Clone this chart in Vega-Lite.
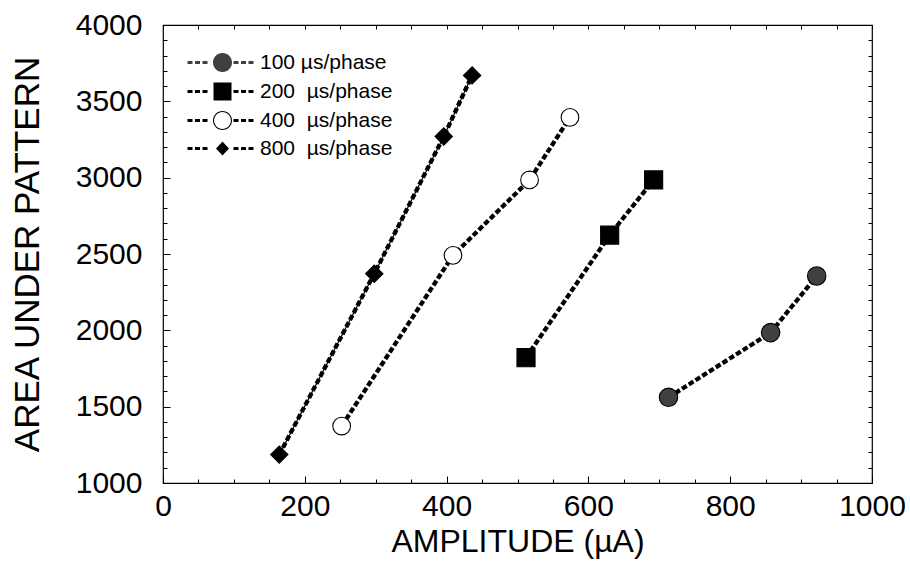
{
  "$schema": "https://vega.github.io/schema/vega-lite/v6.json",
  "width": 709,
  "height": 458,
  "autosize": "none",
  "padding": {"left": 163, "top": 25, "right": 38, "bottom": 81},
  "background": "white",
  "config": {
    "view": {"stroke": "black", "strokeWidth": 1.2},
    "font": "Liberation Sans",
    "axis": {"grid": false, "domain": false, "tickColor": "black", "labelColor": "black", "titleColor": "black", "labelFont": "Liberation Sans", "titleFont": "Liberation Sans", "titleFontWeight": "normal", "tickWidth": 1, "labelFlush": false, "format": "d"}
  },
  "data": {
    "values": [
      {"series": "100 µs/phase", "sid": 100, "amp": 713, "area": 1561},
      {"series": "100 µs/phase", "sid": 100, "amp": 857, "area": 1985},
      {"series": "100 µs/phase", "sid": 100, "amp": 922, "area": 2356},
      {"series": "200\u00a0 µs/phase", "sid": 200, "amp": 512, "area": 1821},
      {"series": "200\u00a0 µs/phase", "sid": 200, "amp": 630, "area": 2624},
      {"series": "200\u00a0 µs/phase", "sid": 200, "amp": 692, "area": 2985},
      {"series": "400\u00a0 µs/phase", "sid": 400, "amp": 252, "area": 1373},
      {"series": "400\u00a0 µs/phase", "sid": 400, "amp": 409, "area": 2491},
      {"series": "400\u00a0 µs/phase", "sid": 400, "amp": 517, "area": 2985},
      {"series": "400\u00a0 µs/phase", "sid": 400, "amp": 574, "area": 3395},
      {"series": "800\u00a0 µs/phase", "sid": 800, "amp": 164, "area": 1186},
      {"series": "800\u00a0 µs/phase", "sid": 800, "amp": 298, "area": 2371},
      {"series": "800\u00a0 µs/phase", "sid": 800, "amp": 396, "area": 3270},
      {"series": "800\u00a0 µs/phase", "sid": 800, "amp": 436, "area": 3670}
    ]
  },
  "layer": [
    {
      "mark": {"type": "line", "color": "black", "strokeWidth": 4.3, "strokeDash": [5.5, 2.5]},
      "encoding": {
        "x": {"field": "amp", "type": "quantitative", "scale": {"domain": [0, 1000], "nice": false},
          "axis": {"orient": "bottom", "values": [0, 200, 400, 600, 800, 1000], "title": "AMPLITUDE (µA)", "tickSize": -7, "labelFontSize": 30, "labelPadding": 15, "titleFontSize": 32, "titlePadding": 5}},
        "y": {"field": "area", "type": "quantitative", "scale": {"domain": [1000, 4000], "nice": false, "zero": false},
          "axis": {"orient": "left", "values": [1000, 1500, 2000, 2500, 3000, 3500, 4000], "title": "AREA UNDER PATTERN", "tickSize": -7, "labelFontSize": 30, "labelPadding": 28, "titleFontSize": 35, "titlePadding": 30}},
        "detail": {"field": "series"}
      }
    },
    {
      "transform": [{"filter": "datum.sid == 800"}],
      "mark": {"type": "line", "color": "black", "strokeWidth": 1.2},
      "encoding": {
        "x": {"field": "amp", "type": "quantitative", "scale": {"domain": [0, 1000], "nice": false},
          "axis": {"orient": "top", "values": [0, 50, 100, 150, 200, 250, 300, 350, 400, 450, 500, 550, 600, 650, 700, 750, 800, 850, 900, 950, 1000], "labels": false, "title": null, "tickSize": -4}},
        "y": {"field": "area", "type": "quantitative", "scale": {"domain": [1000, 4000], "nice": false, "zero": false},
          "axis": {"orient": "right", "values": [1000, 1100, 1200, 1300, 1400, 1500, 1600, 1700, 1800, 1900, 2000, 2100, 2200, 2300, 2400, 2500, 2600, 2700, 2800, 2900, 3000, 3100, 3200, 3300, 3400, 3500, 3600, 3700, 3800, 3900, 4000], "labels": false, "title": null, "tickSize": -4}}
      }
    },
    {
      "mark": {"type": "point", "filled": true, "stroke": "black", "strokeWidth": 1.1, "opacity": 1},
      "encoding": {
        "x": {"field": "amp", "type": "quantitative", "scale": {"domain": [0, 1000], "nice": false},
          "axis": {"orient": "bottom", "values": [0, 50, 100, 150, 200, 250, 300, 350, 400, 450, 500, 550, 600, 650, 700, 750, 800, 850, 900, 950, 1000], "labels": false, "title": null, "tickSize": -4}},
        "y": {"field": "area", "type": "quantitative", "scale": {"domain": [1000, 4000], "nice": false, "zero": false},
          "axis": {"orient": "left", "values": [1000, 1100, 1200, 1300, 1400, 1500, 1600, 1700, 1800, 1900, 2000, 2100, 2200, 2300, 2400, 2500, 2600, 2700, 2800, 2900, 3000, 3100, 3200, 3300, 3400, 3500, 3600, 3700, 3800, 3900, 4000], "labels": false, "title": null, "tickSize": -4}},
        "shape": {"field": "series", "type": "nominal", "scale": {"domain": ["100 µs/phase", "200\u00a0 µs/phase", "400\u00a0 µs/phase", "800\u00a0 µs/phase"], "range": ["circle", "square", "circle", "diamond"]}, "legend": null},
        "fill": {"field": "series", "type": "nominal", "scale": {"domain": ["100 µs/phase", "200\u00a0 µs/phase", "400\u00a0 µs/phase", "800\u00a0 µs/phase"], "range": ["#404040", "black", "white", "black"]}, "legend": null},
        "size": {"field": "series", "type": "ordinal", "scale": {"domain": ["100 µs/phase", "200\u00a0 µs/phase", "400\u00a0 µs/phase", "800\u00a0 µs/phase"], "range": [340, 300, 340, 170]}, "legend": null}
      }
    },
    {
      "mark": {"type": "point", "filled": true, "opacity": 0, "size": 4},
      "encoding": {
        "x": {"field": "amp", "type": "quantitative", "scale": {"domain": [0, 1000], "nice": false}, "axis": null},
        "y": {"field": "area", "type": "quantitative", "scale": {"domain": [1000, 4000], "nice": false, "zero": false}, "axis": null},
        "shape": {"field": "series", "type": "nominal",
          "scale": {"domain": ["100 µs/phase", "200\u00a0 µs/phase", "400\u00a0 µs/phase", "800\u00a0 µs/phase"],
            "range": [
              "M-35,-1.4H-30V1.4H-35Z M-27.5,-1.4H-22.5V1.4H-27.5Z M-20,-1.4H-15V1.4H-20Z M11,-1.4H16V1.4H11Z M18.5,-1.4H23.5V1.4H18.5Z M26,-1.4H31V1.4H26Z M9.5,0A9.5,9.5,0,1,1,-9.5,0A9.5,9.5,0,1,1,9.5,0Z",
              "M-35,-1.4H-30V1.4H-35Z M-27.5,-1.4H-22.5V1.4H-27.5Z M-20,-1.4H-15V1.4H-20Z M11,-1.4H16V1.4H11Z M18.5,-1.4H23.5V1.4H18.5Z M26,-1.4H31V1.4H26Z M-9,-9H9V9H-9Z",
              "M-35,-1.4H-30V1.4H-35Z M-27.5,-1.4H-22.5V1.4H-27.5Z M-20,-1.4H-15V1.4H-20Z M11,-1.4H16V1.4H11Z M18.5,-1.4H23.5V1.4H18.5Z M26,-1.4H31V1.4H26Z M9.5,0A9.5,9.5,0,1,1,-9.5,0A9.5,9.5,0,1,1,9.5,0Z M8.4,0A8.4,8.4,0,1,0,-8.4,0A8.4,8.4,0,1,0,8.4,0Z",
              "M-35,-1.4H-30V1.4H-35Z M-27.5,-1.4H-22.5V1.4H-27.5Z M-20,-1.4H-15V1.4H-20Z M11,-1.4H16V1.4H11Z M18.5,-1.4H23.5V1.4H18.5Z M26,-1.4H31V1.4H26Z M0,-7L6.5,0L0,7L-6.5,0Z"
            ]},
          "legend": {"orient": "none", "legendX": 49, "legendY": 27, "title": null, "padding": 0, "labelFontSize": 21, "labelFont": "Liberation Sans", "labelColor": "black", "labelOffset": 27, "rowPadding": 4, "symbolSize": 4, "symbolOpacity": 1}},
        "fill": {"field": "series", "type": "nominal", "scale": {"domain": ["100 µs/phase", "200\u00a0 µs/phase", "400\u00a0 µs/phase", "800\u00a0 µs/phase"], "range": ["#404040", "black", "black", "black"]},
          "legend": {"orient": "none", "legendX": 49, "legendY": 27, "title": null, "padding": 0, "labelFontSize": 21, "labelFont": "Liberation Sans", "labelColor": "black", "labelOffset": 27, "rowPadding": 4, "symbolSize": 4, "symbolOpacity": 1}}
      }
    }
  ],
  "resolve": {
    "scale": {"shape": "independent", "fill": "independent"},
    "axis": {"x": "independent", "y": "independent"}
  }
}
